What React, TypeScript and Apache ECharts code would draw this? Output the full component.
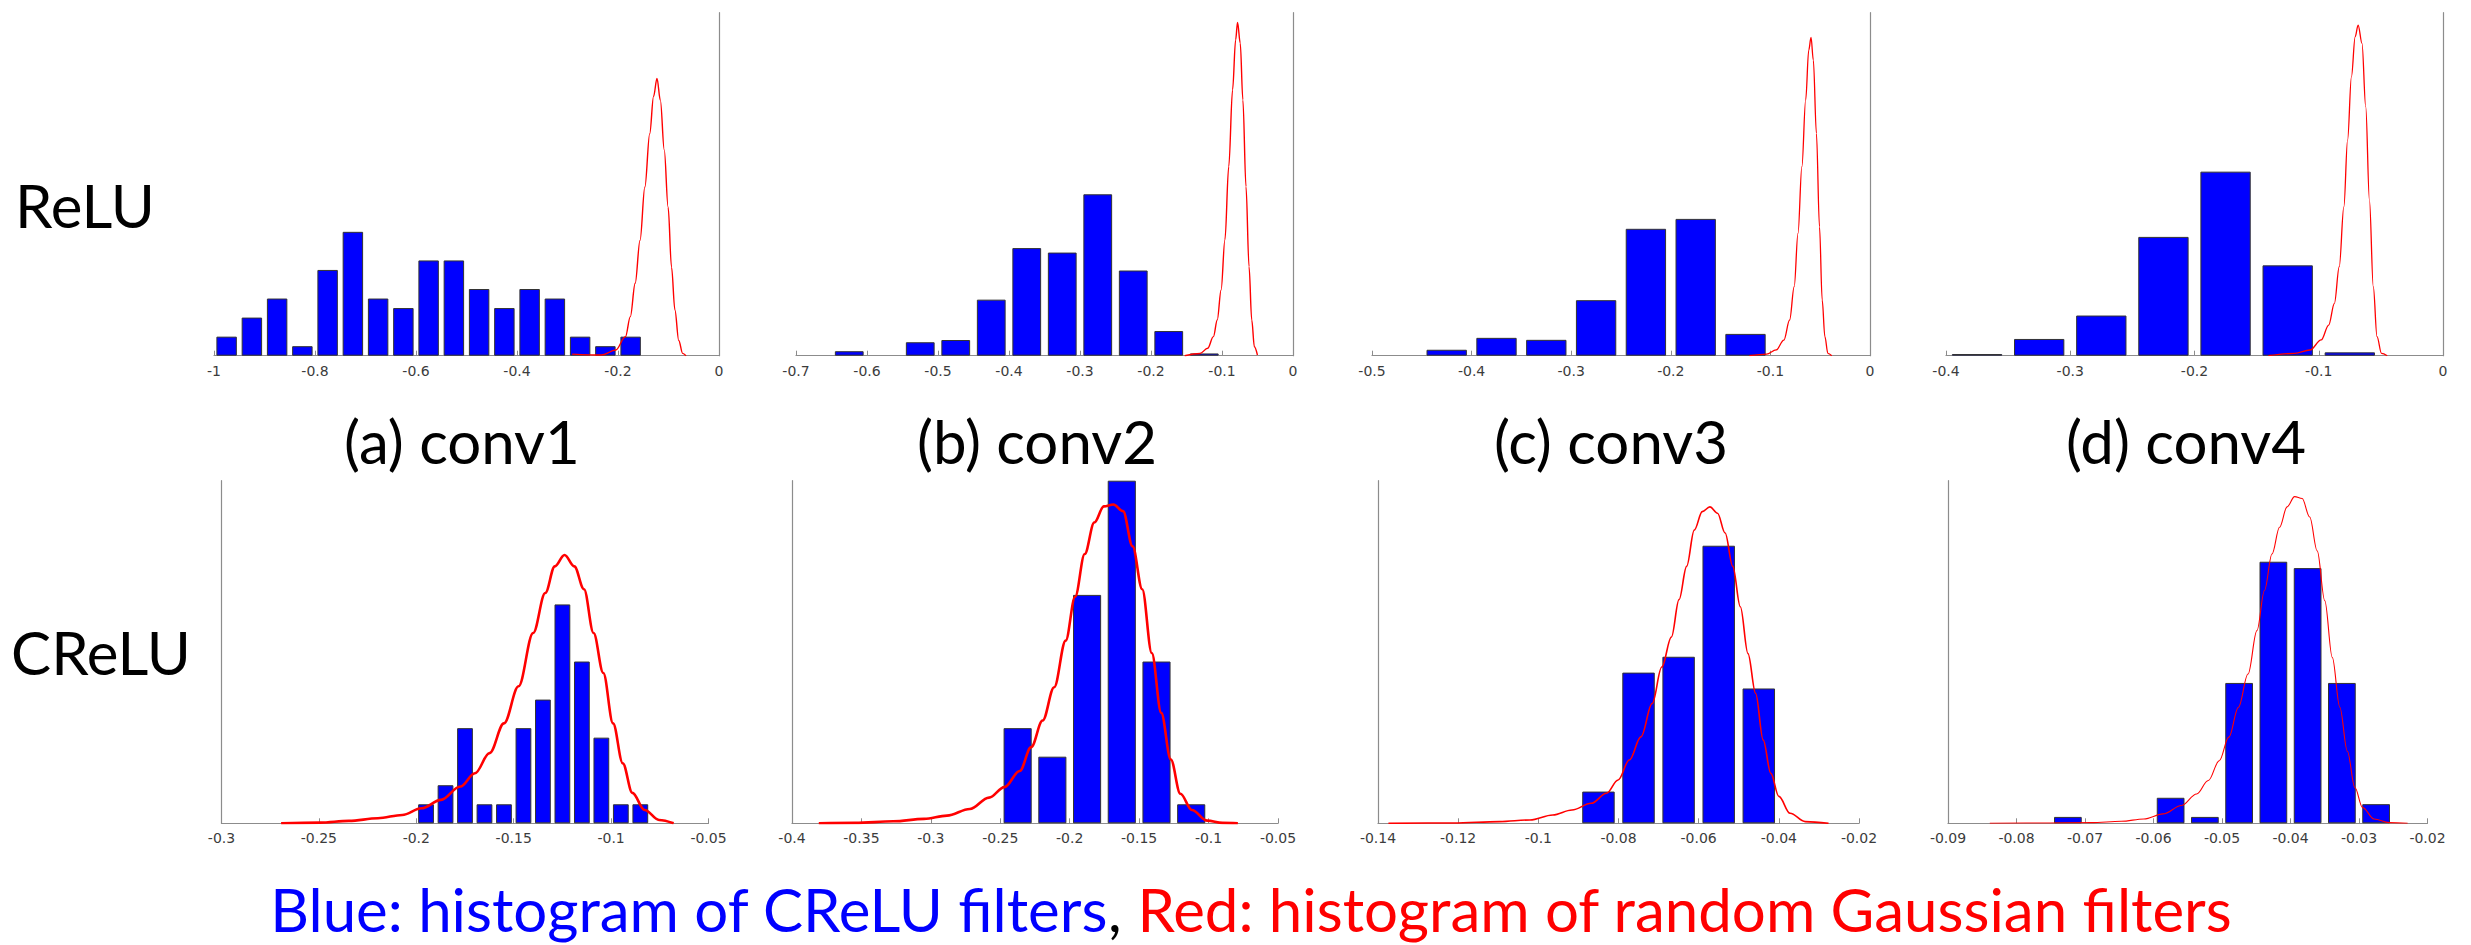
import React, { useEffect, useRef } from "react";
import * as echarts from "echarts";

// ---------- DATA ----------
// Top row (ReLU): blue = histogram of filters, red = random Gaussian filters
const reluConv1Bins = [-0.975, -0.925, -0.875, -0.825, -0.775, -0.725, -0.675, -0.625, -0.575, -0.525, -0.475, -0.425, -0.375, -0.325, -0.275, -0.225, -0.175];
const reluConv1Counts = [2, 4, 6, 1, 9, 13, 6, 5, 10, 10, 7, 5, 7, 6, 2, 1, 2];
const reluConv1GaussX = [-0.2908, -0.2332, -0.2044, -0.1852, -0.1756, -0.166, -0.1564, -0.1468, -0.1372, -0.1296, -0.1228, -0.1161, -0.1084, -0.1008, -0.094, -0.0873, -0.0797, -0.072, -0.0653];
const reluConv1GaussY = [0.17, 0.07, 0.6, 2.0, 4.1, 7.6, 12.1, 17.7, 23.3, 27.2, 29.1, 26.8, 21.6, 15.6, 9.3, 4.8, 1.6, 0.24, 0];

const reluConv2Bins = [-0.625, -0.525, -0.475, -0.425, -0.375, -0.325, -0.275, -0.225, -0.175, -0.125];
const reluConv2Counts = [2, 6, 7, 25, 48, 46, 72, 38, 11, 1];
const reluConv2GaussX = [-0.1525, -0.131, -0.1202, -0.1121, -0.1067, -0.1013, -0.0959, -0.0905, -0.0851, -0.0808, -0.0781, -0.0743, -0.0706, -0.0662, -0.0619, -0.0581, -0.0544, -0.0501];
const reluConv2GaussY = [0, 1.0, 3.3, 8.5, 15.9, 29.3, 51.6, 84.4, 118.6, 140.9, 148.7, 139.4, 114.1, 75.4, 39.7, 15.9, 4.0, 0.3];

const reluConv3Bins = [-0.425, -0.375, -0.325, -0.275, -0.225, -0.175, -0.125];
const reluConv3Counts = [3, 9, 8, 28, 64, 69, 11];
const reluConv3GaussX = [-0.1211, -0.1038, -0.0942, -0.0865, -0.0807, -0.0761, -0.0723, -0.0684, -0.0646, -0.0615, -0.0592, -0.0569, -0.0538, -0.0507, -0.048, -0.0453, -0.0423, -0.0384];
const reluConv3GaussY = [0, 0.8, 2.9, 7.9, 18.0, 34.8, 61.7, 95.3, 128.9, 154.1, 160.5, 149.1, 112.1, 65.0, 28.1, 9.6, 1.2, 0];

const reluConv4Bins = [-0.375, -0.325, -0.275, -0.225, -0.175, -0.125, -0.075];
const reluConv4Counts = [1, 10, 24, 71, 110, 54, 2];
const reluConv4GaussX = [-0.1405, -0.1193, -0.1071, -0.098, -0.092, -0.0874, -0.0835, -0.0798, -0.0768, -0.0737, -0.0707, -0.0683, -0.0652, -0.0622, -0.0592, -0.0561, -0.0531, -0.0495, -0.0449];
const reluConv4GaussY = [0, 1.4, 3.4, 9.4, 18.3, 31.3, 53.2, 89.0, 128.9, 166.7, 190.6, 197.6, 186.7, 148.8, 93.0, 41.2, 11.4, 1.4, 0];

// Bottom row (CReLU)
const creluConv1Bins = [-0.195, -0.185, -0.175, -0.165, -0.155, -0.145, -0.135, -0.125, -0.115, -0.105, -0.095, -0.085];
const creluConv1Counts = [2, 4, 10, 2, 2, 10, 13, 23, 17, 9, 2, 2];
const creluConv1GaussX = [-0.2694, -0.2495, -0.2346, -0.2197, -0.2072, -0.1973, -0.1873, -0.1774, -0.1699, -0.1624, -0.155, -0.1475, -0.14, -0.1338, -0.1289, -0.1239, -0.1189, -0.1139, -0.109, -0.104, -0.099, -0.094, -0.0891, -0.0828, -0.0754, -0.0679];
const creluConv1GaussY = [0, 0.07, 0.25, 0.53, 0.88, 1.58, 2.46, 3.86, 5.26, 7.37, 10.5, 14.4, 20.0, 24.2, 27.0, 28.2, 27.0, 24.6, 20.0, 15.8, 10.5, 6.3, 3.2, 1.4, 0.35, 0];

const creluConv2Bins = [-0.2375, -0.2125, -0.1875, -0.1625, -0.1375, -0.1125];
const creluConv2Counts = [10, 7, 24, 36, 17, 2];
const creluConv2GaussX = [-0.3807, -0.3545, -0.327, -0.3049, -0.2884, -0.2719, -0.2581, -0.247, -0.236, -0.2278, -0.2195, -0.2112, -0.2029, -0.1961, -0.1892, -0.1823, -0.1754, -0.1685, -0.1616, -0.1547, -0.1478, -0.1409, -0.1341, -0.1272, -0.1203, -0.112, -0.101, -0.09, -0.0789];
const creluConv2GaussY = [0, 0.04, 0.21, 0.46, 0.81, 1.5, 2.7, 3.8, 5.5, 8.0, 10.8, 14.3, 19.2, 23.8, 28.3, 31.6, 33.3, 33.5, 32.8, 29.1, 24.6, 17.9, 11.6, 6.7, 3.1, 1.4, 0.28, 0.04, 0];

const creluConv3Bins = [-0.085, -0.075, -0.065, -0.055, -0.045];
const creluConv3Counts = [4, 19, 21, 35, 17];
const creluConv3GaussX = [-0.1374, -0.1212, -0.1097, -0.1021, -0.0964, -0.0916, -0.0868, -0.083, -0.0801, -0.0773, -0.0744, -0.0716, -0.0692, -0.0668, -0.0649, -0.063, -0.0611, -0.0591, -0.0572, -0.0553, -0.0534, -0.0515, -0.0496, -0.0477, -0.0458, -0.0439, -0.042, -0.04, -0.0372, -0.0334, -0.0276];
const creluConv3GaussY = [0, 0.04, 0.21, 0.42, 1.05, 1.68, 2.52, 3.78, 5.46, 7.98, 10.9, 15.1, 19.7, 23.5, 28.2, 32.4, 36.97, 39.3, 39.9, 39.1, 36.6, 32.4, 27.3, 21.4, 16.4, 10.5, 6.3, 3.4, 1.26, 0.21, 0];

const creluConv4Bins = [-0.0725, -0.0575, -0.0525, -0.0475, -0.0425, -0.0375, -0.0325, -0.0275];
const creluConv4Counts = [1, 4, 1, 22, 41, 40, 22, 3];
const creluConv4GaussX = [-0.0839, -0.0751, -0.0691, -0.0647, -0.0614, -0.0586, -0.0559, -0.0537, -0.052, -0.0504, -0.049, -0.0476, -0.0462, -0.0449, -0.0438, -0.0427, -0.0416, -0.0405, -0.0394, -0.0383, -0.0372, -0.0361, -0.035, -0.0339, -0.0328, -0.0317, -0.0306, -0.0295, -0.0278, -0.0256, -0.0229];
const creluConv4GaussY = [0, 0.05, 0.1, 0.31, 0.68, 1.47, 2.8, 4.6, 6.7, 9.8, 13.5, 18.2, 23.4, 30.2, 36.5, 42.2, 46.4, 49.6, 51.2, 50.9, 48.0, 42.7, 34.9, 26.0, 18.2, 11.3, 5.6, 2.5, 0.68, 0.1, 0];

// axis ranges: [min, max, tick interval], bin widths, y maxima
const xAxisMins = [-1, -0.7, -0.5, -0.4, -0.3, -0.4, -0.14, -0.09];
const xAxisMaxs = [0, 0, 0, 0, -0.05, -0.05, -0.02, -0.02];
const xAxisSteps = [0.2, 0.1, 0.1, 0.1, 0.05, 0.05, 0.02, 0.01];
const binWidths = [0.05, 0.05, 0.05, 0.05, 0.01, 0.025, 0.01, 0.005];
const yAxisMaxs = [36, 153, 173, 205, 36, 36, 43.2, 53.7];

const rowLabels = ["ReLU", "CReLU"];
const columnTitles = ["(a) conv1", "(b) conv2", "(c) conv3", "(d) conv4"];
const captionBlue = "Blue: histogram of CReLU filters";
const captionRed = "Red: histogram of random Gaussian filters";

const allBins = [reluConv1Bins, reluConv2Bins, reluConv3Bins, reluConv4Bins, creluConv1Bins, creluConv2Bins, creluConv3Bins, creluConv4Bins];
const allCounts = [reluConv1Counts, reluConv2Counts, reluConv3Counts, reluConv4Counts, creluConv1Counts, creluConv2Counts, creluConv3Counts, creluConv4Counts];
const allGaussX = [reluConv1GaussX, reluConv2GaussX, reluConv3GaussX, reluConv4GaussX, creluConv1GaussX, creluConv2GaussX, creluConv3GaussX, creluConv4GaussX];
const allGaussY = [reluConv1GaussY, reluConv2GaussY, reluConv3GaussY, reluConv4GaussY, creluConv1GaussY, creluConv2GaussY, creluConv3GaussY, creluConv4GaussY];

// ---------- LAYOUT ----------
const gridBoxes = [
  [214, 12.7, 505, 343],
  [796, 12.7, 497, 343],
  [1372, 12.7, 498, 343],
  [1946, 12.7, 497, 343],
  [221.5, 480.7, 487, 342.6],
  [792, 480.7, 486, 342.6],
  [1378, 480.7, 481, 342.6],
  [1948, 480.7, 479.5, 342.6],
];
const redWidths = [1.4, 1.4, 1.3, 1.3, 2.6, 2.6, 1.6, 1.1];
const AXIS_COLOR = "#8c8c8c";

const fmt = (v: number) => String(Math.round(v * 1e6) / 1e6);

export default function App() {
  const ref = useRef<HTMLDivElement>(null);
  useEffect(() => {
    if (!ref.current) return;
    const chart = echarts.init(ref.current, undefined, { renderer: "svg" });
    const grids: any[] = [];
    const xAxes: any[] = [];
    const yAxes: any[] = [];
    const series: any[] = [];
    for (let i = 0; i < 8; i++) {
      const [l, t, w, h] = gridBoxes[i];
      grids.push({ left: l, top: t, width: w, height: h, containLabel: false });
      xAxes.push({
        type: "value",
        gridIndex: i,
        min: xAxisMins[i],
        max: xAxisMaxs[i],
        interval: xAxisSteps[i],
        axisLine: { show: true, onZero: false, lineStyle: { color: AXIS_COLOR, width: 1.2 } },
        axisTick: { show: true, inside: true, length: 5, lineStyle: { color: AXIS_COLOR, width: 1 } },
        splitLine: { show: false },
        axisLabel: {
          show: true,
          margin: 8,
          color: "#3c3c3c",
          fontFamily: "DejaVu Sans",
          fontSize: 14,
          showMinLabel: true,
          showMaxLabel: true,
          hideOverlap: false,
          formatter: fmt,
        },
      });
      yAxes.push({
        type: "value",
        gridIndex: i,
        min: 0,
        max: yAxisMaxs[i],
        axisLine: { show: true, lineStyle: { color: AXIS_COLOR, width: 1.2 } },
        axisTick: { show: false },
        axisLabel: { show: false },
        splitLine: { show: false },
      });
      const barPx = (0.81 * binWidths[i] * w) / (xAxisMaxs[i] - xAxisMins[i]);
      series.push({
        type: "bar",
        xAxisIndex: i,
        yAxisIndex: i,
        barWidth: barPx,
        silent: true,
        data: allBins[i].map((c, j) => [c, allCounts[i][j]]),
        itemStyle: { color: "#0000ff", borderColor: "#333333", borderWidth: 1 },
        z: 2,
      });
      series.push({
        type: "line",
        xAxisIndex: i,
        yAxisIndex: i,
        silent: true,
        symbol: "none",
        showSymbol: false,
        smooth: 0.35,
        smoothMonotone: "x",
        data: allGaussX[i].map((x, j) => [x, allGaussY[i][j]]),
        lineStyle: { color: "#ff0000", width: redWidths[i] },
        z: 3,
      });
    }
    const titleCenters = [462, 1037, 1611, 2186];
    const graphic: any[] = [
      {
        type: "text",
        x: 85,
        y: 205,
        style: { text: rowLabels[0], fontSize: 60, fontFamily: "Lato", fill: "#000", align: "center", verticalAlign: "middle" },
      },
      {
        type: "text",
        x: 101,
        y: 652,
        style: { text: rowLabels[1], fontSize: 60, fontFamily: "Lato", fill: "#000", align: "center", verticalAlign: "middle" },
      },
      ...columnTitles.map((t, k) => ({
        type: "text",
        x: titleCenters[k],
        y: 441,
        style: { text: t, fontSize: 60, fontFamily: "Lato", fill: "#000", align: "center", verticalAlign: "middle" },
      })),
      {
        type: "text",
        x: 1251,
        y: 909,
        style: {
          text: `{b|${captionBlue}}{k|,} {r|${captionRed}}`,
          fontSize: 60,
          fontFamily: "Lato",
          align: "center",
          verticalAlign: "middle",
          rich: {
            b: { fill: "#0000ff", fontSize: 60, fontFamily: "Lato" },
            k: { fill: "#000000", fontSize: 60, fontFamily: "Lato" },
            r: { fill: "#ff0000", fontSize: 60, fontFamily: "Lato" },
          },
        },
      },
    ];
    chart.setOption({
      animation: false,
      backgroundColor: "#ffffff",
      grid: grids,
      xAxis: xAxes,
      yAxis: yAxes,
      series,
      graphic,
    });
    return () => chart.dispose();
  }, []);
  return <div ref={ref} style={{ position: "absolute", left: 0, top: 0, width: 2471, height: 945 }} />;
}
